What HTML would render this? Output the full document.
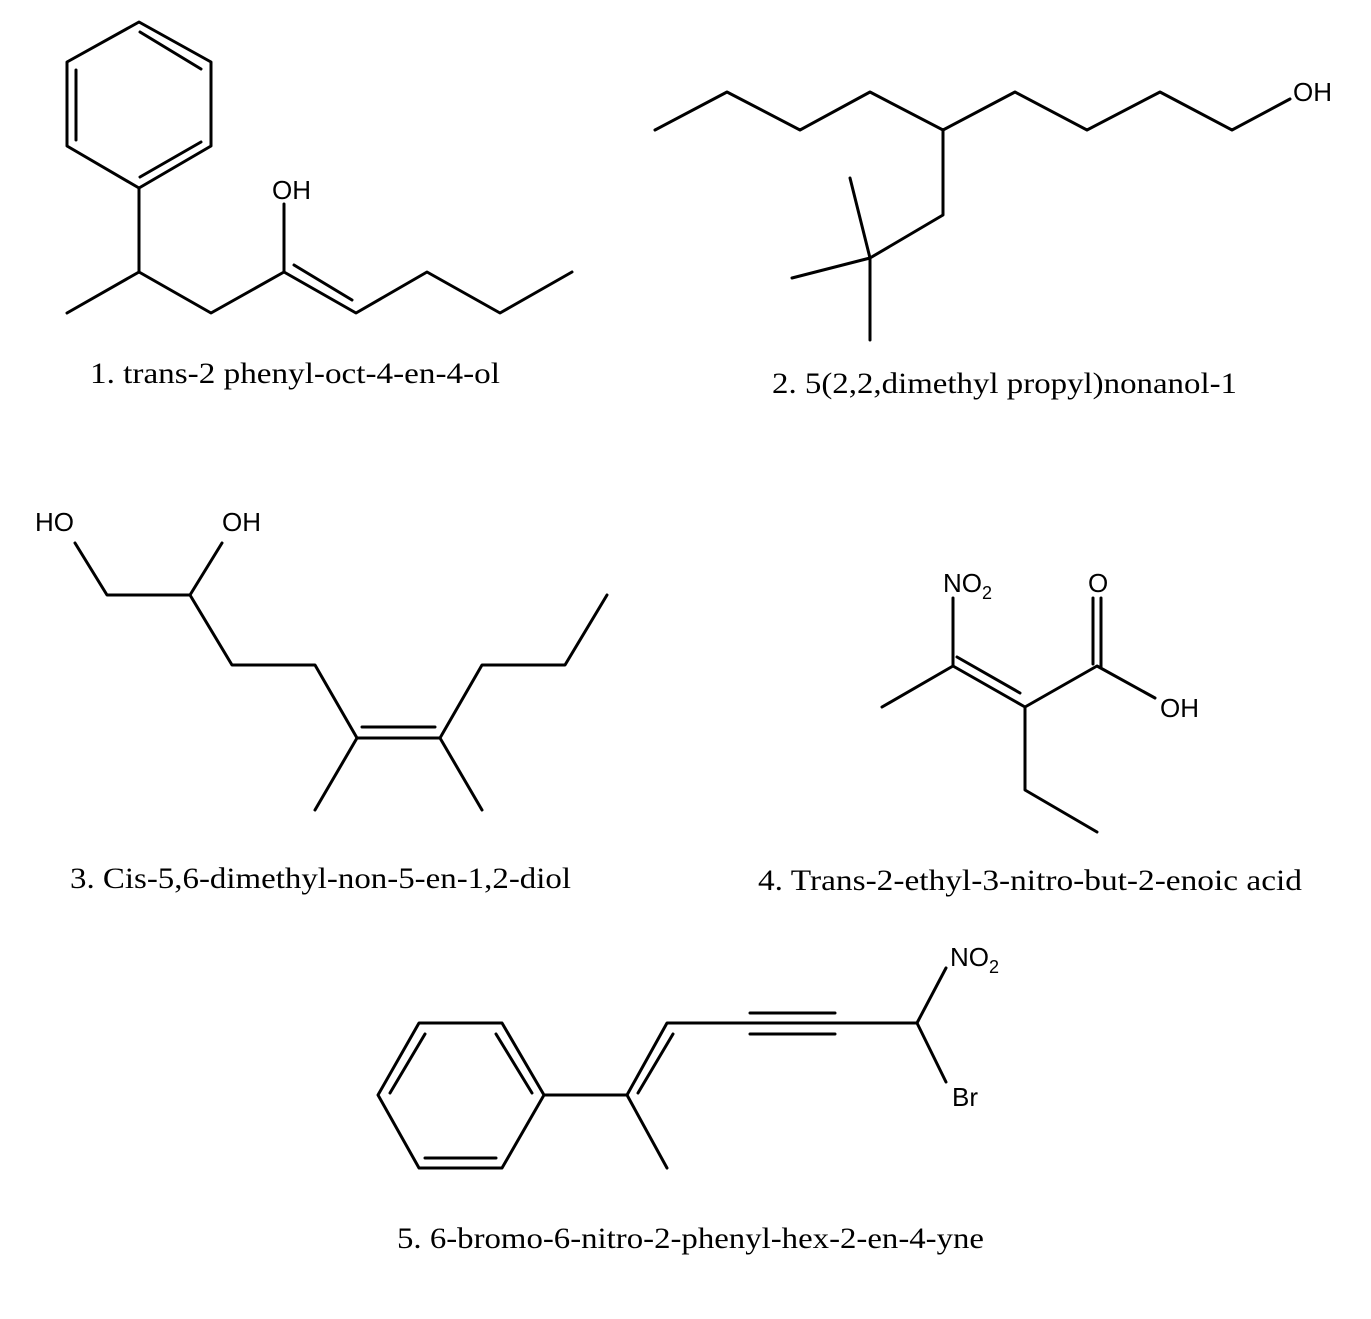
<!DOCTYPE html>
<html><head><meta charset="utf-8"><style>
html,body{margin:0;padding:0;background:#fff;}
svg{display:block;}
.b{stroke:#000;stroke-width:3;fill:none;stroke-linecap:round;stroke-linejoin:round;}
.a{font-family:"Liberation Sans",sans-serif;font-size:26px;fill:#000;}
.s{font-family:"Liberation Sans",sans-serif;font-size:18px;fill:#000;}
.l{font-family:"Liberation Serif",serif;font-size:30px;fill:#000;}
</style></head><body>
<svg width="1371" height="1319" viewBox="0 0 1371 1319" xmlns="http://www.w3.org/2000/svg">
<!-- 1 -->
<g class="b">
<polygon points="139,22 211,62 211,146 139,188 67,146 67,62"/>
<line x1="140" y1="32" x2="201" y2="69"/><line x1="76" y1="70" x2="76" y2="140"/><line x1="140" y1="177" x2="201" y2="142"/>
<polyline points="139,188 139,272 67,313"/>
<polyline points="139,272 211,313 284,272 356,313 427,272 500,313 572,272"/>
<line x1="294" y1="265" x2="352" y2="300"/>
<line x1="284" y1="272" x2="284" y2="204"/>
</g>
<text class="a" x="272" y="199">OH</text>
<text class="l" x="90" y="383" textLength="410" lengthAdjust="spacingAndGlyphs">1. trans-2 phenyl-oct-4-en-4-ol</text>
<!-- 2 -->
<g class="b">
<polyline points="655,130 727,92 800,130 870,92 943,130 1015,92 1087,130 1160,92 1232,130 1290,99"/>
<polyline points="943,130 943,215 870,258"/>
<line x1="870" y1="258" x2="850" y2="178"/><line x1="870" y1="258" x2="792" y2="278"/><line x1="870" y1="258" x2="870" y2="340"/>
</g>
<text class="a" x="1293" y="101">OH</text>
<text class="l" x="772" y="393" textLength="465" lengthAdjust="spacingAndGlyphs">2. 5(2,2,dimethyl propyl)nonanol-1</text>
<!-- 3 -->
<g class="b">
<polyline points="75,543 107,595 190,595 232,665 315,665 357,738 440,738 482,665 565,665 607,595"/>
<line x1="222" y1="543" x2="190" y2="595"/>
<line x1="362" y1="727" x2="435" y2="727"/>
<line x1="357" y1="738" x2="315" y2="810"/><line x1="440" y1="738" x2="482" y2="810"/>
</g>
<text class="a" x="35" y="531">HO</text>
<text class="a" x="222" y="531">OH</text>
<text class="l" x="70" y="888" textLength="501" lengthAdjust="spacingAndGlyphs">3. Cis-5,6-dimethyl-non-5-en-1,2-diol</text>
<!-- 4 -->
<g class="b">
<polyline points="882,707 953,666 1025,707 1097,666 1155,698"/>
<line x1="957" y1="657" x2="1020" y2="693"/>
<line x1="953" y1="598" x2="953" y2="666"/>
<line x1="1093" y1="598" x2="1093" y2="664"/><line x1="1101" y1="598" x2="1101" y2="668"/>
<polyline points="1025,707 1025,790 1097,832"/>
</g>
<text class="a" x="943" y="592">NO</text><text class="s" x="982" y="599">2</text>
<text class="a" x="1088" y="592">O</text>
<text class="a" x="1160" y="717">OH</text>
<text class="l" x="758" y="890" textLength="544" lengthAdjust="spacingAndGlyphs">4. Trans-2-ethyl-3-nitro-but-2-enoic acid</text>
<!-- 5 -->
<g class="b">
<polygon points="378,1095 419,1023 502,1023 544,1095 502,1168 419,1168"/>
<line x1="390" y1="1093" x2="425" y2="1034"/><line x1="496" y1="1034" x2="532" y2="1093"/><line x1="425" y1="1158" x2="496" y2="1158"/>
<polyline points="544,1095 627,1095 667,1168"/>
<polyline points="627,1095 667,1023 750,1023"/>
<line x1="638" y1="1093" x2="673" y2="1034"/>
<line x1="750" y1="1013" x2="835" y2="1013"/><line x1="750" y1="1023" x2="835" y2="1023"/><line x1="750" y1="1034" x2="835" y2="1034"/>
<polyline points="835,1023 917,1023 946,968"/>
<line x1="917" y1="1023" x2="946" y2="1082"/>
</g>
<text class="a" x="950" y="966">NO</text><text class="s" x="989" y="973">2</text>
<text class="a" x="952" y="1106">Br</text>
<text class="l" x="397" y="1248" textLength="587" lengthAdjust="spacingAndGlyphs">5. 6-bromo-6-nitro-2-phenyl-hex-2-en-4-yne</text>
</svg>
</body></html>
